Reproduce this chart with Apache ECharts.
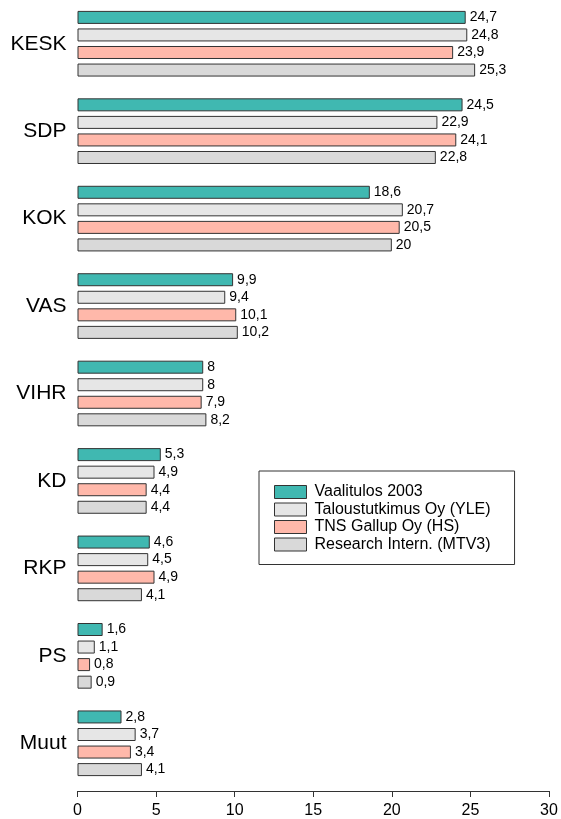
<!DOCTYPE html>
<html><head><meta charset="utf-8">
<script src="https://cdn.jsdelivr.net/npm/echarts@6/dist/echarts.min.js"></script>
<style>html,body{margin:0;padding:0;background:#fff}#c{width:561px;height:819px}</style>
</head><body><div id="c"></div>
<script>
const categories = ['KESK','SDP','KOK','VAS','VIHR','KD','RKP','PS','Muut'];
const seriesNames = ['Vaalitulos 2003','Taloustutkimus Oy (YLE)','TNS Gallup Oy (HS)','Research Intern. (MTV3)'];
const vaalitulos = [24.7,24.5,18.6,9.9,8,5.3,4.6,1.6,2.8];
const taloustutkimus = [24.8,22.9,20.7,9.4,8,4.9,4.5,1.1,3.7];
const tnsGallup = [23.9,24.1,20.5,10.1,7.9,4.4,4.9,0.8,3.4];
const researchIntern = [25.3,22.8,20,10.2,8.2,4.4,4.1,0.9,4.1];
const xTicks = [0,5,10,15,20,25,30];

const colors = ['#40B8B1','#E6E6E6','#FFB8AA','#D9D9D9'];
const allData = [vaalitulos,taloustutkimus,tnsGallup,researchIntern];
const font = 'Liberation Sans, Arial, sans-serif';

const chart = echarts.init(document.getElementById('c'));
chart.setOption({
  animation:false,
  backgroundColor:'#fff',
  grid:{left:77.5,right:12,top:0,height:787,containLabel:false},
  legend:{
    data:seriesNames, orient:'vertical', left:259, top:471,
    padding:[13,24,12,15],
    borderColor:'#333', borderWidth:1,
    itemWidth:32, itemHeight:13, itemGap:1.5,
    icon:'rect',
    itemStyle:{borderWidth:1,borderColor:'#333'},
    textStyle:{fontFamily:font,fontSize:16,lineHeight:16,color:'#000',padding:[0,0,0,3]},
    selectedMode:false
  },
  xAxis:{
    type:'value', min:0, max:30, interval:5, offset:4,
    axisLine:{show:true,lineStyle:{color:'#333',width:1}},
    axisTick:{show:true,length:6,lineStyle:{color:'#333'}},
    splitLine:{show:false},
    axisLabel:{fontFamily:font,fontSize:16,color:'#000',margin:12,
      customValues:xTicks}
  },
  yAxis:{
    type:'category', data:categories, inverse:true,
    axisLine:{show:false}, axisTick:{show:false},
    axisLabel:{fontFamily:font,fontSize:21,color:'#000',margin:11}
  },
  series: seriesNames.map((n,i)=>({
    name:n, type:'bar', data:allData[i],
    barWidth:13, barGap:'35%',
    itemStyle:{color:colors[i],borderColor:'#333',borderWidth:1},
    label:{show:true,position:'right',distance:4,fontFamily:font,fontSize:14,color:'#000',
      formatter:p=>String(p.value).replace('.',',')}
  }))
});
</script></body></html>
